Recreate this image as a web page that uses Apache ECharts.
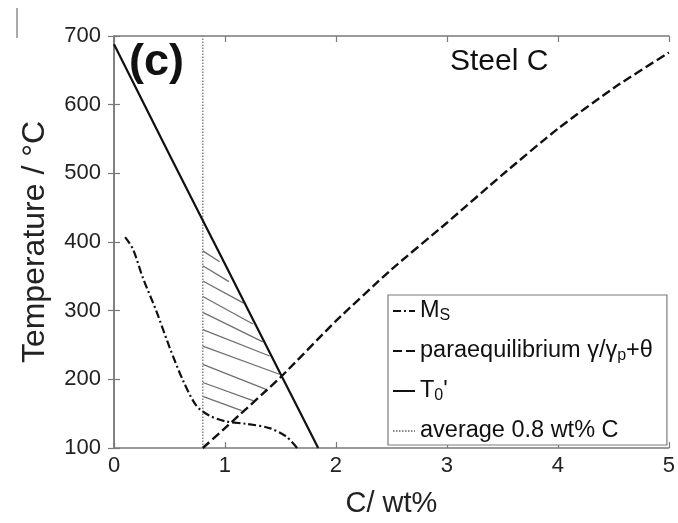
<!DOCTYPE html>
<html>
<head>
<meta charset="utf-8">
<script src="https://cdn.jsdelivr.net/npm/echarts@6/dist/echarts.min.js"></script>
<style>
html,body{margin:0;padding:0;background:#fff;}
#chart{width:678px;height:523px;}
</style>
</head>
<body>
<div id="chart"></div>
<script>
// ---- data ----
const xTicks = [0, 1, 2, 3, 4, 5];
const yTicks = [100, 200, 300, 400, 500, 600, 700];
const msCurve = [[0.1,407],[0.17,390],[0.26,348],[0.38,300],[0.5,247],[0.62,199],[0.74,162],[0.85,148],[1.0,139],[1.2,135],[1.4,129],[1.55,117],[1.65,100]];
const paraCurve = [[0.8,100],[1.0,129],[1.5,203],[2,285],[2.5,360],[3,428],[3.5,498],[4,565],[4.5,624],[5,676]];
const t0Curve = [[0,688],[0.5,527],[1,368],[1.5,208],[1.84,100]];
const avgCarbon = 0.8;
const hatchStarts = [387.1, 365.5, 343.2, 320.6, 297.5, 272.4, 248.4, 221.8, 195.4, 175.1];
const hatchEnds = [[0.952,371.2],[1.036,342.3],[1.168,311.0],[1.252,280.6],[1.341,254.6],[1.402,234.0],[1.491,207.4],[1.370,185.5],[1.258,168.6],[1.150,154.5]];
const seriesNames = ['MS', 'paraequilibrium γ/γp+θ', "T0'", 'average 0.8 wt% C'];

const FONT = 'Liberation Sans, Arial, Helvetica, sans-serif';
const hatchData = hatchStarts.map((v, i) => ({ coords: [[avgCarbon, v], hatchEnds[i]] }));
const avgLine = [[avgCarbon, yTicks[0]], [avgCarbon, yTicks[yTicks.length - 1]]];

const chart = echarts.init(document.getElementById('chart'), null, { renderer: 'canvas' });
const axisCommon = {
  axisLine: { show: true, lineStyle: { color: '#7a7a7a', width: 1.5 } },
  axisTick: { show: true, inside: true, length: 6, lineStyle: { color: '#7a7a7a', width: 1.2 } },
  splitLine: { show: false }
};
const legendRich = {
  m: { fontSize: 23.5, lineHeight: 26, color: '#111', fontFamily: FONT },
  s: { fontSize: 16, lineHeight: 10, verticalAlign: 'bottom', color: '#111', fontFamily: FONT }
};
const legendFmt = {
  'MS': '{m|M}{s|S}',
  'paraequilibrium γ/γp+θ': '{m|paraequilibrium γ/γ}{s|p}{m|+θ}',
  "T0'": "{m|T}{s|0}{m|'}",
  'average 0.8 wt% C': '{m|average 0.8 wt% C}'
};

chart.setOption({
  animation: false,
  backgroundColor: '#fff',
  grid: { left: 114, right: 8, top: 36, bottom: 73 },
  xAxis: [
    Object.assign({}, axisCommon, {
      type: 'value', min: xTicks[0], max: xTicks[xTicks.length - 1], interval: 1,
      name: 'C/ wt%', nameLocation: 'middle', nameGap: 41,
      nameTextStyle: { fontSize: 29, color: '#222', fontFamily: FONT },
      axisLabel: { fontSize: 22, color: '#222', margin: 7, fontFamily: FONT }
    }),
    Object.assign({}, axisCommon, {
      type: 'value', position: 'top', min: xTicks[0], max: xTicks[xTicks.length - 1], interval: 1,
      axisLabel: { show: false }
    })
  ],
  yAxis: [
    Object.assign({}, axisCommon, {
      type: 'value', min: yTicks[0], max: yTicks[yTicks.length - 1], interval: 100,
      name: 'Temperature / °C', nameLocation: 'middle', nameGap: 63, nameRotate: 90,
      nameTextStyle: { fontSize: 32, color: '#222', fontFamily: FONT },
      axisLabel: { fontSize: 22, color: '#222', margin: 13, fontFamily: FONT }
    }),
    Object.assign({}, axisCommon, {
      type: 'value', position: 'right', min: yTicks[0], max: yTicks[yTicks.length - 1], interval: 100,
      axisLabel: { show: false }
    })
  ],
  legend: {
    orient: 'vertical', left: 388, top: 295,
    data: seriesNames,
    itemWidth: 22, itemHeight: 14, itemGap: 15,
    padding: [4, 14, 2, 4],
    backgroundColor: '#fff', borderColor: '#7a7a7a', borderWidth: 1.2,
    selectedMode: false,
    itemStyle: { opacity: 0 },
    formatter: name => legendFmt[name],
    textStyle: { fontSize: 23.5, fontFamily: FONT, color: '#111', rich: legendRich }
  },
  series: [
    {
      type: 'lines', coordinateSystem: 'cartesian2d', silent: true, z: 1,
      data: hatchData,
      lineStyle: { color: '#6f6f6f', width: 1.3, opacity: 1 }
    },
    {
      name: seriesNames[0], type: 'line', data: msCurve, smooth: 0.3, symbol: 'none', z: 3,
      lineStyle: { color: '#111', width: 2.2, type: [8, 3, 2, 3] }, itemStyle: { color: '#111' }
    },
    {
      name: seriesNames[1], type: 'line', data: paraCurve, smooth: 0.2, symbol: 'none', z: 3,
      lineStyle: { color: '#111', width: 2.4, type: [9, 4] }, itemStyle: { color: '#111' }
    },
    {
      name: seriesNames[2], type: 'line', data: t0Curve, smooth: 0.1, symbol: 'none', z: 3,
      lineStyle: { color: '#111', width: 2.2, type: 'solid' }, itemStyle: { color: '#111' }
    },
    {
      name: seriesNames[3], type: 'line', data: avgLine, symbol: 'none', z: 2,
      lineStyle: { color: '#888', width: 1.5, type: [1.5, 1.5] }, itemStyle: { color: '#888' }
    }
  ],
  graphic: [
    { type: 'text', left: 129, top: 40, style: { text: '(c)', fontSize: 45, fontWeight: 'bold', fontFamily: FONT, fill: '#111' } },
    { type: 'text', left: 450, top: 47, style: { text: 'Steel C', fontSize: 30, fontFamily: FONT, fill: '#111' } },
    { type: 'line', shape: { x1: 17, y1: 8, x2: 17, y2: 38 }, style: { stroke: '#555', lineWidth: 1 } }
  ]
});
</script>
</body>
</html>
